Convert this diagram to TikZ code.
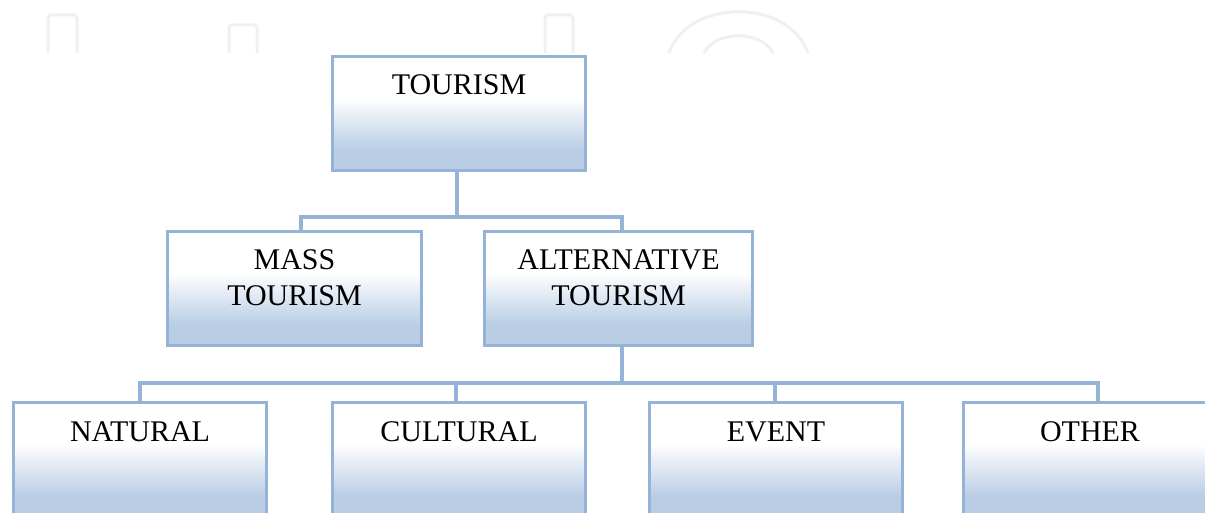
\documentclass[tikz,border=0pt]{standalone}
\usepackage{fontspec}
\setmainfont{Liberation Serif}
\definecolor{bxline}{HTML}{95B3D7}
\definecolor{bxblue}{HTML}{B9CDE5}
\definecolor{wmark}{HTML}{EFF1F1}
\pgfdeclareverticalshading{boxshade}{100bp}{color(0bp)=(bxblue); color(25bp)=(bxblue); color(34bp)=(bxblue); color(57bp)=(white); color(75bp)=(white); color(100bp)=(white)}
\tikzset{
  box/.style={draw=bxline, line width=3.2pt, shading=boxshade, minimum height=114pt, inner sep=0pt},
  lbl/.style={font=\fontsize{30}{36}\selectfont, align=center, inner sep=0pt, anchor=north, yshift=-20pt, text=black},
  conn/.style={draw=bxline, line width=3.2pt},
  wm/.style={draw=wmark, line width=3pt, rounded corners=3pt}
}
\begin{document}
\begin{tikzpicture}[x=1pt,y=-1pt]
\useasboundingbox (0,0) rectangle (1205,513);
\clip (0,0) rectangle (1205,513);
\fill[white] (0,0) rectangle (1205,513);
% faint watermark shapes
\draw[wm] (48,53) -- (48,15) -- (77,15) -- (77,53);
\draw[wm] (229,53) -- (229,25) -- (257,25) -- (257,53);
\draw[wm] (545,53) -- (545,15) -- (573,15) -- (573,53);
\draw[wm] (669,53) .. controls (688,-2) and (789,-2) .. (808,53);
\draw[wm] (704,53) .. controls (716,30) and (761,30) .. (773,53);
% boxes
\node[box, minimum width=253pt, label={[lbl]north:TOURISM}] (t) at (459,113.5) {};
\node[box, minimum width=254pt, label={[lbl]north:MASS\\TOURISM}] (mass) at (294.5,288.5) {};
\node[box, minimum width=268pt, label={[lbl]north:ALTERNATIVE\\TOURISM}] (alt) at (618.5,288.5) {};
\node[box, minimum width=253pt, label={[lbl,yshift=-1pt]north:NATURAL}] (nat) at (140,459.5) {};
\node[box, minimum width=253pt, label={[lbl,yshift=-1pt]north:CULTURAL}] (cul) at (459,459.5) {};
\node[box, minimum width=253pt, label={[lbl,yshift=-1pt]north:EVENT}] (evt) at (776,459.5) {};
\node[box, minimum width=253pt, label={[lbl,yshift=-1pt]north:OTHER}] (oth) at (1090,459.5) {};
% connectors
\coordinate (bus1) at (459,217);
\coordinate (bus2) at (622,383);
\draw[conn] ([xshift=-2pt]t.south) -- ([xshift=-2pt]t.south |- bus1) -| ([xshift=6.5pt]mass.north);
\draw[conn] ([xshift=-2pt]t.south |- bus1) -| ([xshift=3.5pt]alt.north);
\draw[conn] ([xshift=3.5pt]alt.south) -- ([xshift=3.5pt]alt.south |- bus2) -| (nat.north);
\draw[conn] ([xshift=3.5pt]alt.south |- bus2) -| ([xshift=-3pt]cul.north);
\draw[conn] ([xshift=3.5pt]alt.south |- bus2) -| ([xshift=-1pt]evt.north);
\draw[conn] ([xshift=3.5pt]alt.south |- bus2) -| ([xshift=8pt]oth.north);
\end{tikzpicture}
\end{document}
